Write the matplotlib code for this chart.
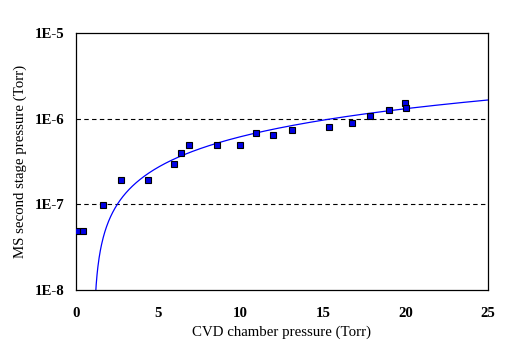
import numpy as np
import matplotlib
matplotlib.use("Agg")
import matplotlib.pyplot as plt
from matplotlib.ticker import FixedLocator, FixedFormatter, NullLocator

# Data
cvd_pressure = [0.04, 0.44, 1.66, 2.75, 4.35, 5.96, 6.35, 6.88, 8.56, 9.97,
                10.94, 11.97, 13.11, 15.37, 16.77, 17.86, 19.01, 19.98, 20.04]
ms_pressure = [4.85e-8, 4.85e-8, 9.8e-8, 1.91e-7, 1.91e-7, 2.93e-7, 3.94e-7, 4.89e-7,
               4.89e-7, 4.89e-7, 6.75e-7, 6.4e-7, 7.31e-7, 7.93e-7, 8.83e-7,
               1.08e-6, 1.25e-6, 1.51e-6, 1.34e-6]

# Linear trendline
trend_slope = 6.9e-8
trend_intercept = -7.3e-8

x_ticks = [0, 5, 10, 15, 20, 25]
y_ticks = [1e-8, 1e-7, 1e-6, 1e-5]
y_tick_labels = ["1E-8", "1E-7", "1E-6", "1E-5"]

plt.rcParams['font.family'] = ['Liberation Serif', 'DejaVu Serif']

fig = plt.figure(figsize=(5.2, 3.47), dpi=100)
ax = fig.add_axes([76/520, 1-290/347, (488-76)/520, (290-33)/347])

ax.set_yscale('log')
ax.set_xlim(0, 25)
ax.set_ylim(1e-8, 1e-5)

# gridlines at inner decades
for yv in y_ticks[1:-1]:
    ax.axhline(yv, color='black', lw=0.8, ls=(0, (4, 3)), zorder=1)

xs = np.linspace(0, 25, 1000)
ys = trend_slope * xs + trend_intercept
ys = np.where(ys > 0, ys, np.nan)
ax.plot(xs, ys, color='#0000FF', lw=0.9, zorder=2)

ax.plot(cvd_pressure, ms_pressure, ls='none', marker='s', ms=4.6,
        mfc='#0000E6', mec='black', mew=0.8, zorder=3)

ax.xaxis.set_major_locator(FixedLocator(x_ticks))
ax.yaxis.set_major_locator(FixedLocator(y_ticks))
ax.yaxis.set_major_formatter(FixedFormatter(y_tick_labels))
ax.yaxis.set_minor_locator(NullLocator())
ax.tick_params(axis='both', length=0)
ax.tick_params(axis='y', pad=8)
ax.tick_params(axis='x', pad=12)
for lab in ax.get_xticklabels() + ax.get_yticklabels():
    lab.set_fontweight('bold')
    lab.set_fontsize(10.7)

for s in ax.spines.values():
    s.set_linewidth(0.9)
    s.set_color('black')

fig.text(282/520, 1-332/347, "CVD chamber pressure (Torr)", ha='center', va='center',
         fontsize=10.7)
fig.text(20/520, 1-161.5/347, "MS second stage pressure (Torr)", ha='center', va='center',
         rotation=90, fontsize=10.7)

fig.savefig("out.png", dpi=100)
